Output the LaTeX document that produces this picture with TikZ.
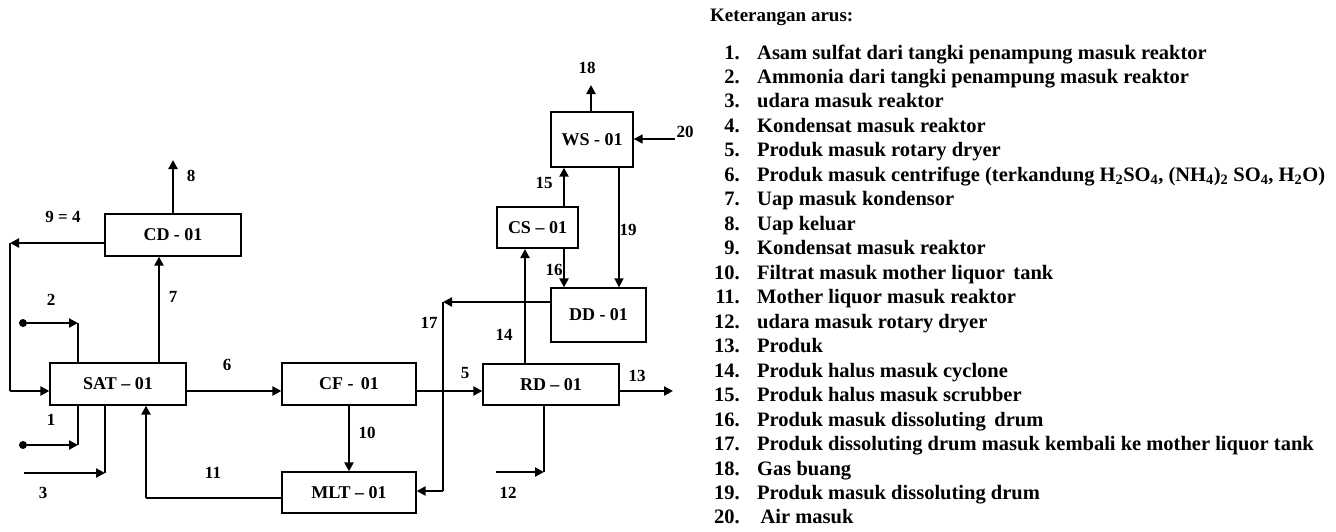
\documentclass[tikz,border=0pt]{standalone}
\usepackage{fontspec}
\setmainfont{Liberation Serif}
\usetikzlibrary{arrows.meta}
\tikzset{
	unit/.style={draw, line width=1.3pt, inner sep=0pt, font=\bfseries\fontsize{18}{21}\selectfont},
	flow/.style={line width=2.2pt, -{Triangle[length=9pt,width=9pt]}},
	pipe/.style={line width=2.2pt},
	thinpipe/.style={line width=1.2pt},
	tag/.style={font=\bfseries\fontsize{17}{20}\selectfont},
	legend/.style={anchor=base west, inner sep=0pt, font=\bfseries\fontsize{20.5}{24}\selectfont},
	feed/.style={circle, fill=black, inner sep=0pt, minimum size=8pt}
}
\begin{document}
\begin{tikzpicture}[x=1pt, y=-1pt]
		\useasboundingbox (0,0) rectangle (1336,531);
		
		% Units
		\node[unit, minimum width=136pt, minimum height=42pt] (sat) at (118,384) {SAT -- 01};
		\node[unit, minimum width=136pt, minimum height=42pt] (cd) at (173,235) {CD - 01};
		\node[unit, minimum width=134pt, minimum height=42pt] (cf) at (349,384) {CF -\, 01};
		\node[unit, minimum width=134pt, minimum height=41pt] (mlt) at (349,492.5) {MLT -- 01};
		\node[unit, minimum width=136pt, minimum height=41pt] (rd) at (551,384.5) {RD -- 01};
		\node[unit, line width=2pt, minimum width=81pt, minimum height=41pt] (cs) at (537.5,227.5) {CS -- 01};
		\node[unit, minimum width=95pt, minimum height=54pt] (dd) at (598.5,315) {DD - 01};
		\node[unit, minimum width=82pt, minimum height=55pt] (ws) at (592,139.5) {WS - 01};
		
		% Free ends
		\node[feed] (in2) at (23,323) {};
		\node[feed] (in1) at (23,445) {};
		\coordinate (c2) at (78,323);
		\coordinate (c1) at (78,445);
		\coordinate (in3) at (24,473);
		\coordinate (c3) at (105,473);
		\coordinate (out8) at (173,160);
		\coordinate (c94) at (10,243);
		\coordinate (c94b) at (10,391);
		\coordinate (c11) at (146,498);
		\coordinate (c17a) at (443,302);
		\coordinate (c17b) at (443,491);
		\coordinate (in12) at (496,472);
		\coordinate (c12) at (544,472);
		\coordinate (out13) at (673,391);
		\coordinate (out18) at (591,85);
		\coordinate (in20) at (675,139);
		
		% Streams round the reactor
		\draw[flow] (in2) -- (c2);
		\draw[thinpipe] (c2) -- (sat.north -| c2);
		\draw[flow] (in1) -- (c1);
		\draw[pipe] (c1) -- (sat.south -| c1);
		\draw[flow] (in3) -- (c3);
		\draw[thinpipe] (c3) -- (sat.south -| c3);
		\draw[flow] (sat.north -| 159,0) -- (cd.south -| 159,0);
		\draw[flow] (cd.north) -- (out8);
		\draw[flow] (cd.west |- c94) -- (c94);
		\draw[thinpipe] (c94) -- (c94b);
		\draw[flow] (c94b) -- (sat.west |- c94b);
		\draw[flow] (sat.east |- 0,391) -- (cf.west |- 0,391);
		\draw[flow] (cf.south) -- (mlt.north);
		\draw[pipe] (mlt.west |- c11) -- (c11);
		\draw[flow] (c11) -- (sat.south -| c11);
		
		% Dryer and gas cleaning
		\draw[flow] (cf.east |- 0,391) -- (rd.west |- 0,391);
		\draw[flow] (rd.east |- out13) -- (out13);
		\draw[flow] (in12) -- (c12);
		\draw[pipe] (c12) -- (rd.south -| c12);
		\draw[flow] (rd.north -| 525,0) -- (cs.south -| 525,0);
		\draw[flow] (cs.north -| 564,0) -- (ws.south -| 564,0);
		\draw[flow] (cs.south -| 564,0) -- (dd.north -| 564,0);
		\draw[flow, line width=1.6pt] (ws.south -| 619,0) -- (dd.north -| 619,0);
		\draw[flow] (ws.north -| out18) -- (out18);
		\draw[flow, line width=1.6pt] (in20) -- (ws.east |- in20);
		\draw[flow] (dd.west |- c17a) -- (c17a);
		\draw[pipe] (c17a) -- (c17b);
		\draw[flow] (c17b) -- (mlt.east |- c17b);
		
		% Stream numbers
		\node[tag] (t1) at (51,420) {1};
		\node[tag] (t2) at (51,300) {2};
		\node[tag] (t3) at (43,493) {3};
		\node[tag] (t5) at (465,373) {5};
		\node[tag] (t6) at (227,365) {6};
		\node[tag] (t7) at (173,297) {7};
		\node[tag] (t8) at (191,176) {8};
		\node[tag] (t94) at (63,217) {9 = 4};
		\node[tag] (t10) at (367,433) {10};
		\node[tag] (t11) at (213,473) {11};
		\node[tag] (t12) at (508,493) {12};
		\node[tag] (t13) at (637,376) {13};
		\node[tag] (t14) at (504,335) {14};
		\node[tag] (t15) at (544,183) {15};
		\node[tag] (t16) at (554,270) {16};
		\node[tag] (t17) at (429,323) {17};
		\node[tag] (t18) at (587,68) {18};
		\node[tag] (t19) at (628,230) {19};
		\node[tag] (t20) at (685,132) {20};
		
		% Legend
		\node[legend, font=\bfseries\fontsize{19}{22}\selectfont] (title) at (710,21) {Keterangan arus:};
		\foreach \i/\txt in {
			1/{Asam sulfat dari tangki penampung masuk reaktor},
			2/{Ammonia dari tangki penampung masuk reaktor},
			3/{udara masuk reaktor},
			4/{Kondensat masuk reaktor},
			5/{Produk masuk rotary dryer},
			6/{Produk masuk centrifuge (terkandung H\textsubscript{2}SO\textsubscript{4}, (NH\textsubscript{4})\textsubscript{2} SO\textsubscript{4}, H\textsubscript{2}O)},
			7/{Uap masuk kondensor},
			8/{Uap keluar},
			9/{Kondensat masuk reaktor},
			10/{Filtrat masuk mother liquor\, tank},
			11/{Mother liquor masuk reaktor},
			12/{udara masuk rotary dryer},
			13/{Produk},
			14/{Produk halus masuk cyclone},
			15/{Produk halus masuk scrubber},
			16/{Produk masuk dissoluting\, drum},
			17/{Produk dissoluting drum masuk kembali ke mother liquor tank},
			18/{Gas buang},
			19/{Produk masuk dissoluting drum},
			20/{\,Air masuk}}
		{
			\node[legend, anchor=base east] (n\i) at (740,{59+(\i-1)*24.47}) {\i.};
			\node[legend] (l\i) at (757,{59+(\i-1)*24.47}) {\txt};
		}
	\end{tikzpicture}
\end{document}
